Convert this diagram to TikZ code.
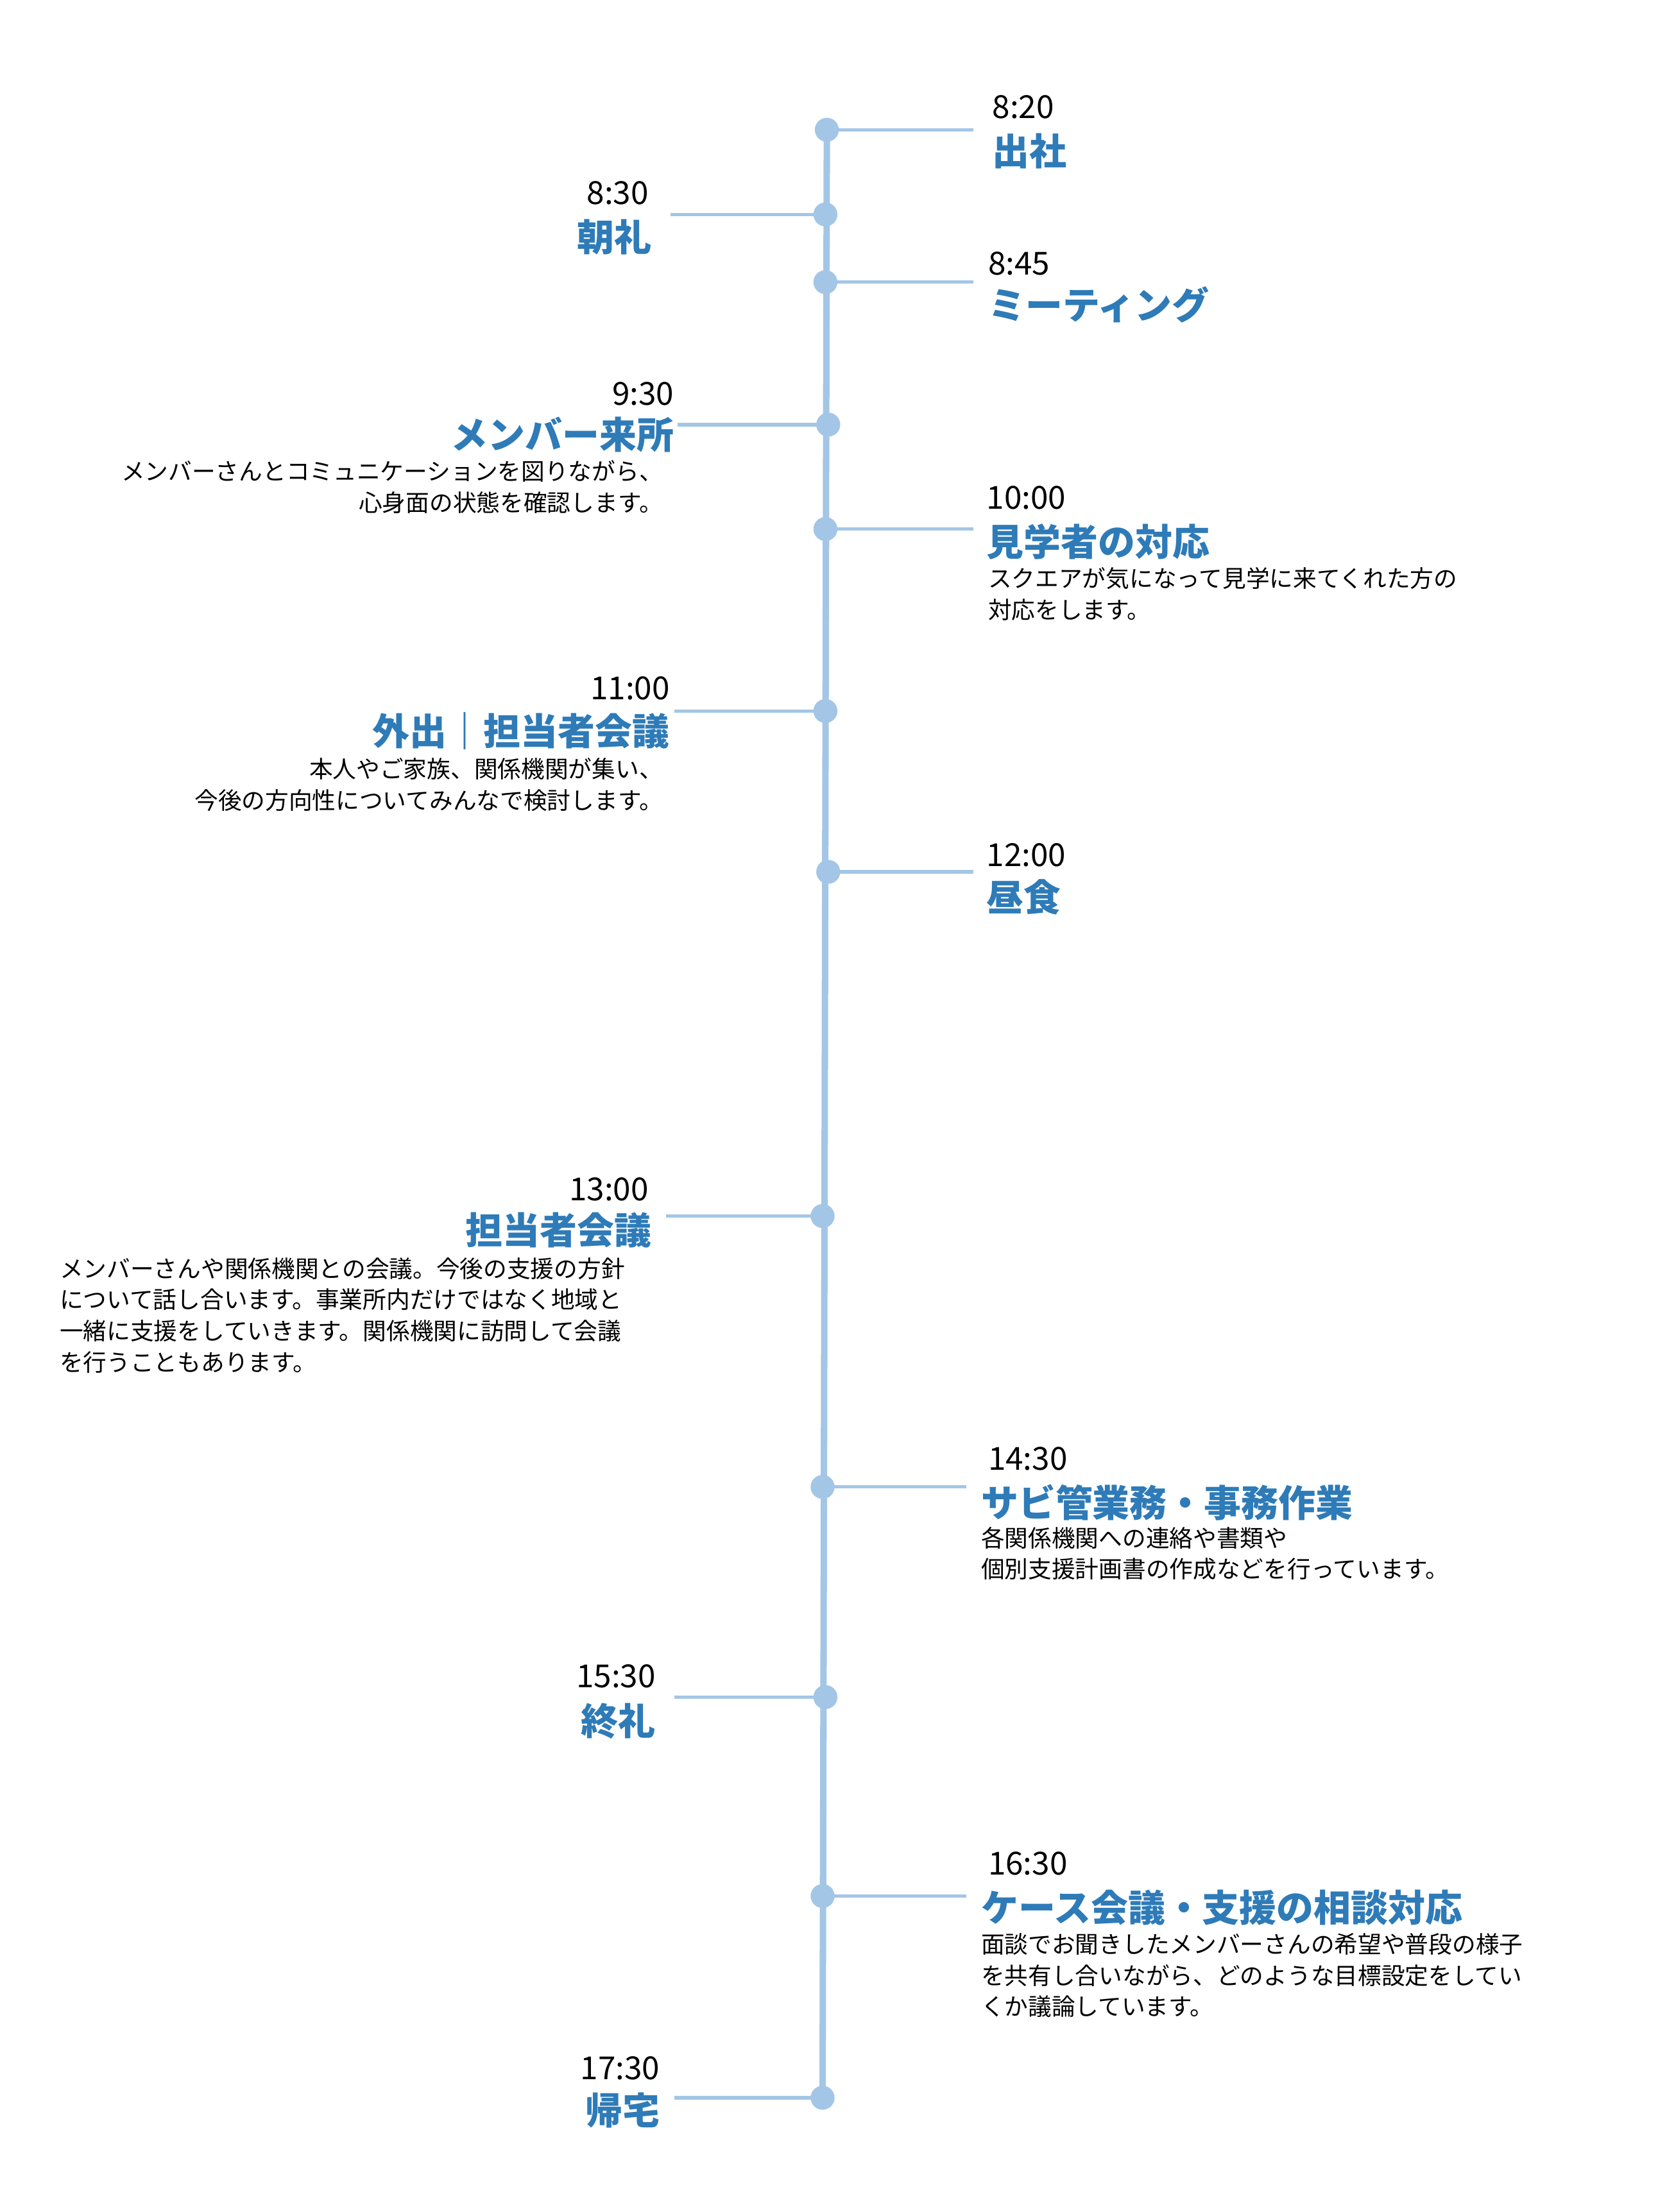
\documentclass[tikz,border=0pt]{standalone}
\usepackage{fontspec}
\setmainfont{Noto Sans CJK JP}
\usetikzlibrary{positioning}
\definecolor{lineblue}{RGB}{163,198,230}
\definecolor{titleblue}{RGB}{46,123,184}
\tikzset{
  dot/.style={circle,fill=lineblue,minimum size=0.34cm,inner sep=0pt},
  arm/.style={draw=lineblue,line width=1.4pt},
  spine/.style={draw=lineblue,line width=2.6pt},
  tm/.style={inner sep=0pt,font=\fontsize{12.8}{15}\selectfont},
  ttl/.style={inner sep=0pt,text=titleblue,font=\fontsize{15}{18}\selectfont\bfseries},
  dsc/.style={inner sep=0pt,font=\fontsize{9.5}{12.6}\selectfont},
}
\begin{document}
\begin{tikzpicture}
\useasboundingbox (0,0) rectangle (23.5,-31.36);

% dots on the time line
\node[dot] (d1) at (11.72,-1.84) {};
\node[dot] (d2) at (11.70,-3.04) {};
\node[dot] (d3) at (11.70,-4.00) {};
\node[dot] (d4) at (11.74,-6.02) {};
\node[dot] (d5) at (11.70,-7.50) {};
\node[dot] (d6) at (11.70,-10.08) {};
\node[dot] (d7) at (11.74,-12.36) {};
\node[dot] (d8) at (11.66,-17.24) {};
\node[dot] (d9) at (11.66,-21.08) {};
\node[dot] (d10) at (11.70,-24.06) {};
\node[dot] (d11) at (11.66,-26.88) {};
\node[dot] (d12) at (11.66,-29.74) {};
\draw[spine] (d1.center) -- (d12.center);

% arms
\coordinate (e1) at (13.80,-1.84);
\coordinate (e2) at (9.50,-3.04);
\coordinate (e3) at (13.80,-4.00);
\coordinate (e4) at (9.60,-6.02);
\coordinate (e5) at (13.80,-7.50);
\coordinate (e6) at (9.56,-10.08);
\coordinate (e7) at (13.80,-12.36);
\coordinate (e8) at (9.44,-17.24);
\coordinate (e9) at (13.70,-21.08);
\coordinate (e10) at (9.56,-24.06);
\coordinate (e11) at (13.70,-26.88);
\coordinate (e12) at (9.56,-29.74);
\foreach \i in {1,...,12}
  \draw[arm] (d\i.center) -- (e\i);

% 8:20
\node[tm,anchor=west] (t1) at (14.06,-1.52) {8:20};
\node[ttl,anchor=west] (n1) at (14.06,-2.14) {出社};
% 8:30
\node[tm,anchor=east] (t2) at (9.20,-2.74) {8:30};
\node[ttl,anchor=east] (n2) at (9.24,-3.36) {朝礼};
% 8:45
\node[tm,anchor=west] (t3) at (14.00,-3.74) {8:45};
\node[ttl,anchor=west] (n3) at (14.00,-4.32) {ミーティング};
% 9:30
\node[tm,anchor=east] (t4) at (9.56,-5.58) {9:30};
\node[ttl,anchor=east] (n4) at (9.56,-6.16) {メンバー来所};
\node[dsc,anchor=north east,align=right] (s4) at (9.40,-6.52)
  {メンバーさんとコミュニケーションを図りながら、\\心身面の状態を確認します。};
% 10:00
\node[tm,anchor=west] (t5) at (13.98,-7.06) {10:00};
\node[ttl,anchor=west] (n5) at (13.98,-7.68) {見学者の対応};
\node[dsc,anchor=north west,align=left] (s5) at (14.00,-8.04)
  {スクエアが気になって見学に来てくれた方の\\対応をします。};
% 11:00
\node[tm,anchor=east] (t6) at (9.50,-9.76) {11:00};
\node[ttl,anchor=east] (n6) at (9.50,-10.36) {外出｜担当者会議};
\node[dsc,anchor=north east,align=right] (s6) at (9.40,-10.74)
  {本人やご家族、関係機関が集い、\\今後の方向性についてみんなで検討します。};
% 12:00
\node[tm,anchor=west] (t7) at (13.98,-12.12) {12:00};
\node[ttl,anchor=west] (n7) at (13.98,-12.72) {昼食};
% 13:00
\node[tm,anchor=east] (t8) at (9.20,-16.86) {13:00};
\node[ttl,anchor=east] (n8) at (9.24,-17.44) {担当者会議};
\node[dsc,anchor=north west,align=left] (s8) at (0.84,-17.82)
  {メンバーさんや関係機関との会議。今後の支援の方針\\について話し合います。事業所内だけではなく地域と\\一緒に支援をしていきます。関係機関に訪問して会議\\を行うこともあります。};
% 14:30
\node[tm,anchor=west] (t9) at (14.00,-20.68) {14:30};
\node[ttl,anchor=west] (n9) at (13.90,-21.30) {サビ管業務・事務作業};
\node[dsc,anchor=north west,align=left] (s9) at (13.90,-21.64)
  {各関係機関への連絡や書類や\\個別支援計画書の作成などを行っています。};
% 15:30
\node[tm,anchor=east] (t10) at (9.30,-23.76) {15:30};
\node[ttl,anchor=east] (n10) at (9.30,-24.40) {終礼};
% 16:30
\node[tm,anchor=west] (t11) at (14.00,-26.42) {16:30};
\node[ttl,anchor=west] (n11) at (13.90,-27.04) {ケース会議・支援の相談対応};
\node[dsc,anchor=north west,align=left] (s11) at (13.90,-27.40)
  {面談でお聞きしたメンバーさんの希望や普段の様子\\を共有し合いながら、どのような目標設定をしてい\\くか議論しています。};
% 17:30
\node[tm,anchor=east] (t12) at (9.36,-29.32) {17:30};
\node[ttl,anchor=east] (n12) at (9.36,-29.92) {帰宅};
\end{tikzpicture}
\end{document}
